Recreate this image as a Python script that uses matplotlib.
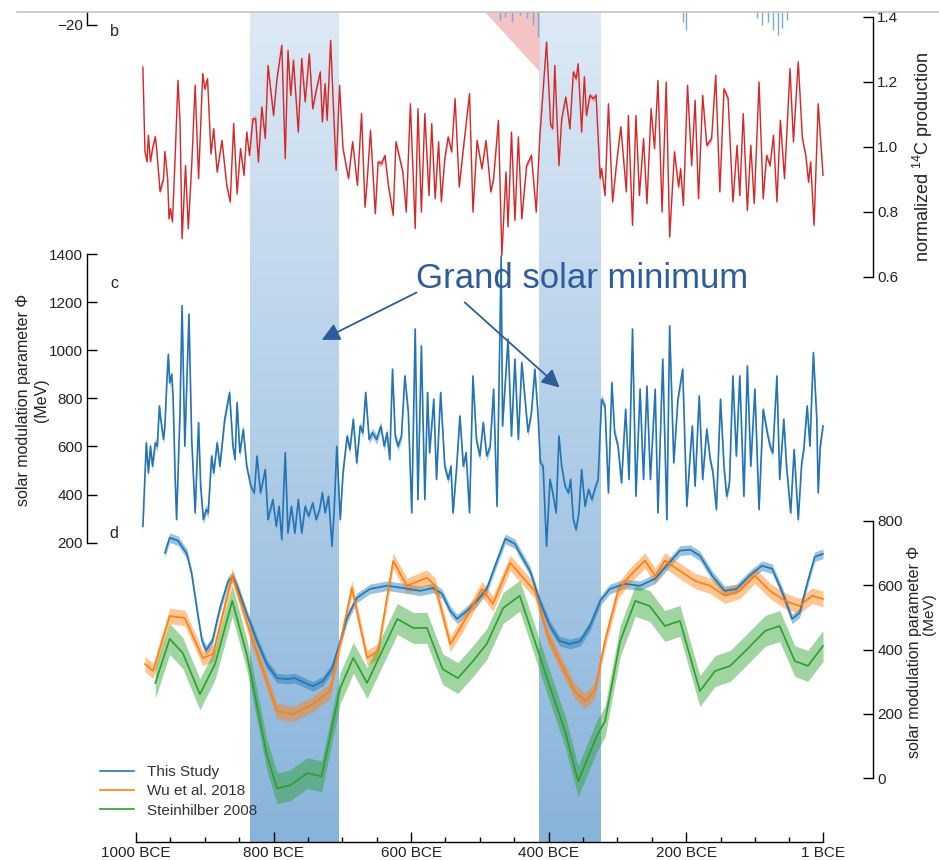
import numpy as np
import matplotlib.pyplot as plt
from matplotlib.colors import LinearSegmentedColormap
from matplotlib.lines import Line2D

plt.rcParams['font.family'] = ['Liberation Sans', 'DejaVu Sans']
plt.rcParams['mathtext.fontset'] = 'custom'
plt.rcParams['mathtext.rm'] = 'Liberation Sans'
plt.rcParams['mathtext.it'] = 'Liberation Sans:italic'
plt.rcParams['axes.linewidth'] = 1.0

# ---------------- data (years: negative = BCE) ----------------
gsm_periods = [(-834, -705), (-414, -325)]

# panel b : normalized 14C production
b_years = [-990, -987, -984, -982, -979, -976, -972, -970, -965, -960,
           -958, -954, -952, -950, -947, -943, -939, -936, -933, -928,
           -924, -919, -914, -909, -903, -900, -896, -891, -887, -882,
           -875, -868, -863, -858, -853, -848, -843, -839, -835, -830,
           -826, -822, -817, -812, -808, -800, -795, -788, -783, -779,
           -775, -771, -764, -759, -754, -748, -743, -738, -732, -729,
           -725, -722, -717, -709, -704, -699, -691, -685, -678, -672,
           -667, -664, -659, -652, -648, -643, -638, -633, -626, -622,
           -617, -612, -607, -601, -594, -590, -585, -580, -574, -570,
           -565, -560, -556, -551, -546, -541, -536, -530, -524, -515,
           -510, -504, -497, -491, -484, -480, -473, -468, -462, -459,
           -454, -449, -444, -439, -432, -425, -418, -413, -403, -397,
           -394, -391, -385, -381, -375, -369, -364, -360, -357, -352,
           -348, -345, -340, -335, -331, -325, -323, -318, -313, -307,
           -301, -295, -287, -284, -278, -273, -268, -262, -257, -251,
           -246, -241, -235, -229, -224, -217, -211, -208, -204, -198,
           -192, -187, -182, -176, -170, -163, -157, -151, -145, -139,
           -132, -126, -122, -117, -111, -106, -101, -94, -88, -83,
           -78, -73, -68, -63, -57, -54, -49, -44, -37, -31,
           -26, -22, -19, -14, -8, -1]
b_vals = [1.245, 0.985, 0.954, 1.035, 0.954, 0.994, 1.031, 0.994, 0.862, 0.902,
          0.985, 0.902, 0.778, 0.809, 0.769, 0.973, 1.204, 1.077, 0.717, 0.942,
          0.748, 0.942, 1.189, 0.902, 1.225, 1.178, 1.209, 0.978, 1.055, 0.922,
          1.019, 0.881, 0.830, 1.071, 0.855, 0.994, 0.912, 1.045, 0.973, 1.086,
          1.086, 0.953, 1.122, 1.025, 1.250, 1.096, 1.209, 1.312, 0.963, 1.296,
          1.158, 1.266, 1.045, 1.271, 1.138, 1.286, 1.117, 1.173, 1.230, 1.076,
          1.194, 1.081, 1.327, 0.927, 1.189, 0.994, 0.902, 1.015, 0.881, 1.102,
          0.814, 0.891, 1.050, 0.794, 0.953, 0.948, 0.973, 0.881, 0.789, 1.015,
          0.968, 0.922, 0.799, 1.132, 0.748, 1.117, 0.799, 1.102, 0.850, 1.071,
          0.840, 1.015, 0.830, 0.963, 1.030, 0.984, 1.148, 0.876, 0.994, 1.163,
          0.799, 1.019, 0.932, 1.019, 0.861, 0.902, 1.081, 0.666, 0.922, 0.753,
          1.045, 0.773, 1.030, 0.778, 0.942, 0.973, 0.799, 1.025, 1.322, 1.066,
          1.056, 1.250, 0.942, 1.085, 1.153, 1.055, 1.230, 1.209, 1.255, 1.045,
          1.215, 1.096, 1.158, 1.148, 1.158, 0.902, 0.933, 0.850, 1.132, 0.830,
          0.953, 1.061, 0.861, 1.096, 0.758, 1.096, 0.850, 1.025, 0.825, 1.117,
          0.994, 1.204, 0.799, 1.199, 0.722, 0.984, 0.876, 0.932, 0.819, 1.189,
          0.942, 1.143, 0.840, 1.158, 1.004, 1.025, 1.220, 0.861, 1.178, 1.148,
          0.830, 1.004, 0.850, 1.102, 0.804, 1.004, 0.825, 1.199, 0.840, 0.973,
          0.942, 1.035, 0.830, 1.081, 0.902, 1.025, 1.240, 1.015, 1.261, 1.025,
          0.973, 0.891, 0.953, 0.758, 1.132, 0.912]
b_err = 0.009

# panel c : solar modulation parameter (this study, annual)
c_years = [-990, -985, -982, -979, -976, -972, -969, -966, -964, -960,
           -958, -955, -953, -951, -948, -946, -943, -941, -936, -933,
           -929, -923, -919, -914, -909, -906, -902, -898, -895, -890,
           -887, -882, -878, -871, -864, -859, -856, -853, -849, -844,
           -839, -833, -828, -824, -819, -812, -808, -801, -796, -792,
           -788, -783, -779, -774, -769, -764, -759, -754, -749, -743,
           -738, -733, -729, -725, -720, -715, -712, -708, -703, -699,
           -693, -689, -684, -679, -674, -670, -666, -661, -656, -650,
           -644, -639, -635, -631, -627, -623, -619, -614, -609, -604,
           -599, -594, -590, -585, -580, -576, -573, -567, -563, -557,
           -551, -546, -542, -539, -534, -529, -524, -520, -515, -510,
           -505, -500, -495, -490, -485, -480, -475, -469, -467, -459,
           -454, -449, -444, -439, -430, -425, -420, -415, -412, -408,
           -403, -398, -394, -389, -385, -381, -376, -371, -368, -364,
           -360, -356, -352, -347, -342, -337, -333, -328, -323, -318,
           -313, -308, -304, -299, -294, -288, -283, -278, -273, -267,
           -262, -257, -252, -245, -241, -234, -228, -224, -218, -212,
           -205, -199, -194, -191, -187, -181, -176, -170, -165, -161,
           -156, -150, -145, -141, -137, -132, -127, -122, -116, -111,
           -106, -100, -94, -88, -82, -78, -74, -68, -64, -58,
           -54, -48, -43, -37, -32, -29, -24, -20, -15, -10,
           -8, -5, -1]
c_vals = [268, 615, 490, 601, 518, 615, 601, 768, 713, 629,
          685, 879, 983, 865, 900, 796, 463, 296, 740, 1185,
          601, 1150, 629, 324, 699, 435, 296, 338, 324, 560,
          490, 615, 518, 713, 824, 601, 546, 782, 574, 671,
          518, 435, 407, 560, 407, 504, 296, 379, 268, 351,
          213, 574, 240, 351, 240, 379, 240, 351, 310, 365,
          296, 338, 407, 324, 393, 185, 324, 601, 296, 490,
          643, 587, 713, 532, 685, 657, 824, 629, 657, 629,
          685, 601, 657, 546, 921, 643, 601, 643, 893, 740,
          324, 1088, 379, 1018, 379, 824, 574, 796, 463, 824,
          518, 463, 518, 324, 504, 726, 518, 574, 324, 893,
          629, 560, 699, 560, 601, 838, 351, 1392, 685, 1046,
          643, 963, 629, 949, 660, 740, 921, 713, 532, 518,
          185, 463, 407, 324, 643, 518, 435, 407, 463, 296,
          254, 324, 504, 351, 421, 379, 421, 463, 796, 768,
          407, 865, 657, 601, 449, 754, 463, 1088, 393, 838,
          463, 851, 463, 838, 324, 963, 296, 1101, 532, 796,
          921, 351, 574, 685, 435, 810, 463, 671, 546, 490,
          338, 796, 518, 393, 449, 893, 560, 893, 393, 935,
          518, 838, 338, 754, 657, 601, 574, 893, 463, 713,
          518, 324, 587, 296, 532, 587, 768, 601, 990, 713,
          407, 601, 685]
c_err = 20

# panel d : smoothed comparisons
d_study_years = [-958, -951, -939, -926, -919, -911, -904, -898, -889, -878,
                 -866, -859, -852, -839, -824, -810, -795, -780, -769, -754,
                 -743, -728, -715, -706, -693, -679, -660, -635, -612, -587,
                 -568, -555, -543, -533, -519, -504, -490, -475, -463, -449,
                 -442, -427, -413, -398, -384, -369, -354, -340, -325, -311,
                 -289, -267, -245, -226, -209, -194, -180, -162, -144, -127,
                 -108, -90, -75, -61, -46, -35, -23, -13, -1]
d_study_vals = [700, 747, 738, 697, 635, 520, 426, 398, 426, 529,
                613, 626, 591, 511, 426, 355, 311, 308, 311, 296,
                286, 302, 342, 405, 498, 560, 588, 598, 591, 582,
                591, 573, 520, 495, 520, 551, 588, 676, 744, 728,
                700, 644, 551, 473, 426, 417, 426, 473, 551, 588,
                604, 598, 620, 666, 707, 710, 691, 629, 582, 588,
                629, 660, 651, 582, 495, 514, 613, 688, 697]
d_study_err = 15

d_wu_years = [-987, -975, -951, -929, -903, -888, -860, -830, -795, -772,
              -743, -718, -686, -664, -648, -626, -606, -577, -565, -543,
              -525, -497, -481, -456, -442, -420, -401, -384, -362, -347,
              -333, -318, -299, -282, -260, -245, -231, -209, -187, -165,
              -144, -122, -100, -78, -56, -35, -17, -1]
d_wu_vals = [355, 333, 504, 498, 374, 386, 629, 426, 209, 199,
             230, 271, 591, 374, 395, 675, 598, 623, 598, 417,
             479, 588, 542, 669, 635, 582, 442, 364, 271, 240,
             271, 426, 582, 629, 676, 629, 676, 644, 613, 598,
             567, 582, 629, 582, 551, 535, 567, 557]
d_wu_err = 24

d_st_years = [-972, -951, -932, -907, -885, -860, -839, -810, -795, -776,
              -751, -730, -703, -684, -664, -620, -597, -577, -554, -532,
              -510, -490, -466, -442, -420, -401, -376, -357, -330, -318,
              -296, -274, -253, -231, -209, -180, -158, -136, -114, -85,
              -64, -42, -23, -1]
d_st_vals = [296, 433, 389, 261, 355, 551, 386, 75, -31, -22,
             16, 6, 280, 374, 296, 495, 467, 467, 339, 311,
             364, 417, 529, 567, 426, 302, 146, -9, 131, 177,
             426, 551, 535, 473, 489, 271, 333, 349, 395, 458,
             473, 364, 349, 411]
d_st_err = 48

# remnants of panel a at the top edge
a_years = [-471, -463, -453, -442, -431, -423, -415, -205, -200,
           -97, -90, -81, -73, -67, -61, -54]
a_vals = [-16.2, -13.8, -17.7, -12.3, -14.6, -20.0, -29.2, -17.7, -23.8,
          -14.6, -20.0, -17.7, -23.8, -27.7, -22.3, -16.2]

x_major = [-1000, -800, -600, -400, -200, -1]
x_labels = ['1000 BCE', '800 BCE', '600 BCE', '400 BCE', '200 BCE', '1 BCE']

# ---------------- layout helpers ----------------
W, H = 939, 860
X0, X1 = 136, 823
RIGHT = (873 - X0) / (X1 - X0)
LEFT = (87 - X0) / (X1 - X0)
TXT = '#222222'
GSM_COLOR = '#2e5c9a'


def rect(top, bottom):
    return [X0 / W, 1 - bottom / H, (X1 - X0) / W, (bottom - top) / H]


def panel(top, bottom, side, ylim, ticks, labels):
    ax = fig.add_axes(rect(top, bottom))
    ax.patch.set_visible(False)
    ax.set_xlim(-1000, -1)
    ax.set_ylim(*ylim)
    for s in ax.spines.values():
        s.set_visible(False)
    ax.spines[side].set_visible(True)
    ax.spines[side].set_position(('axes', RIGHT if side == 'right' else LEFT))
    ax.set_xticks([])
    ax.yaxis.set_ticks_position(side)
    ax.set_yticks(ticks)
    ax.set_yticklabels(labels)
    ax.tick_params(axis='y', direction='in', length=7, width=1,
                   labelsize=11, pad=3, labelcolor=TXT)
    return ax


fig = plt.figure(figsize=(W / 100, H / 100), dpi=100)

# background: grand solar minimum bands + time axis
bg = fig.add_axes(rect(12, 842))
grad = np.linspace(0, 1, 256).reshape(-1, 1)
band_cmap = LinearSegmentedColormap.from_list('band', ['#dde9f5', '#88b4db'])
for start, end in gsm_periods:
    bg.imshow(grad, cmap=band_cmap, aspect='auto', extent=(start, end, 0, 1),
              interpolation='bilinear', zorder=0)
bg.set_xlim(-1000, -1)
bg.set_ylim(0, 1)
for s in ['top', 'left', 'right']:
    bg.spines[s].set_visible(False)
bg.set_yticks([])
bg.set_xticks(x_major)
bg.set_xticklabels(x_labels)
bg.set_xticks([t for t in range(-950, 0, 50) if t not in x_major], minor=True)
bg.tick_params(axis='x', which='major', direction='in', length=7, width=1,
               labelsize=11, pad=3, labelcolor=TXT)
bg.tick_params(axis='x', which='minor', direction='in', length=3.5, width=1)
bg.patch.set_visible(False)

# panel a remnant
axa = panel(12, 25, 'left', (-20, -10), [-20], ['\u221220'])
axa.spines['left'].set_bounds(-20, -10)
axa.vlines(a_years, a_vals, -10, color='#78acd6', lw=1, clip_on=False)
axa.fill([-492, -413, -413], [-10, -10, -56], color='#f4c4c4', lw=0,
         clip_on=False, zorder=0)

# panel b
axb = panel(16.7, 276.7, 'right', (0.6, 1.4), [0.6, 0.8, 1.0, 1.2, 1.4],
            ['0.6', '0.8', '1.0', '1.2', '1.4'])
bv = np.array(b_vals)
axb.fill_between(b_years, bv - b_err, bv + b_err, color='#e98a8a', lw=0,
                 alpha=0.7, clip_on=False)
axb.plot(b_years, bv, color='#d62728', lw=1.0, clip_on=False)

# panel c
axc = panel(254, 542.7, 'left', (200, 1400), list(range(200, 1401, 200)),
            [str(t) for t in range(200, 1401, 200)])
cv = np.array(c_vals)
axc.fill_between(c_years, cv - c_err, cv + c_err, color='#8dbbe0', lw=0,
                 alpha=0.8, clip_on=False)
axc.plot(c_years, cv, color='#2474b3', lw=1.2, clip_on=False)

# panel d
axd = panel(520.7, 778.3, 'right', (0, 800), list(range(0, 801, 200)),
            [str(t) for t in range(0, 801, 200)])
series = [
    (d_study_years, d_study_vals, d_study_err, '#1f77b4', 'This Study'),
    (d_wu_years, d_wu_vals, d_wu_err, '#ff7f0e', 'Wu et al. 2018'),
    (d_st_years, d_st_vals, d_st_err, '#2ca02c', 'Steinhilber 2008'),
]
handles = []
for yrs, vals, err, col, lab in series:
    v = np.array(vals)
    axd.fill_between(yrs, v - err, v + err, color=col, alpha=0.45, lw=0,
                     clip_on=False)
    ln, = axd.plot(yrs, v, color=col, lw=1.2, clip_on=False, label=lab)
    handles.append(ln)

leg = fig.legend(handles=handles, loc='upper left',
                 bbox_to_anchor=(94 / W, 1 - 759 / H), frameon=False,
                 fontsize=11, handlelength=2.2, handletextpad=0.9,
                 labelspacing=0.35, borderpad=0.4, borderaxespad=0)
for t in leg.get_texts():
    t.set_color('#333333')

# annotation
axc.text(-352, 1258, 'Grand solar minimum', ha='center', va='baseline',
         fontsize=25, color=GSM_COLOR, zorder=10)
arrow = dict(arrowstyle='-|>,head_length=0.6,head_width=0.3', color=GSM_COLOR,
             lw=1.3, mutation_scale=18, shrinkA=0, shrinkB=0)
axc.annotate('', xy=(-730, 1043), xytext=(-592, 1240), arrowprops=arrow,
             zorder=10, annotation_clip=False)
axc.annotate('', xy=(-384, 845), xytext=(-522, 1199), arrowprops=arrow,
             zorder=10, annotation_clip=False)

# axis titles and panel letters
fig.text(923 / W, 1 - 157 / H, 'normalized $^{14}$C production', rotation=90,
         ha='center', va='center', fontsize=13, color=TXT)
fig.text(33 / W, 1 - 400 / H, 'solar modulation parameter \u03a6\n(MeV)',
         rotation=90, ha='center', va='center', fontsize=11.5, color=TXT,
         multialignment='center', linespacing=1.25)
fig.text(914 / W, 1 - 652 / H, 'solar modulation parameter \u03a6', rotation=90,
         ha='center', va='center', fontsize=11.5, color=TXT)
fig.text(929 / W, 1 - 614 / H, '(MeV)', rotation=90, ha='center', va='center',
         fontsize=11, color=TXT)
for letter, py in [('b', 31), ('c', 283), ('d', 533)]:
    fig.text(114 / W, 1 - py / H, letter, ha='center', va='center',
             fontsize=11.5, color=TXT)

fig.add_artist(Line2D([17 / W, 1], [1 - 12 / H] * 2, color='#c4c4c4', lw=1.2))

fig.savefig('out.png', dpi=100)
